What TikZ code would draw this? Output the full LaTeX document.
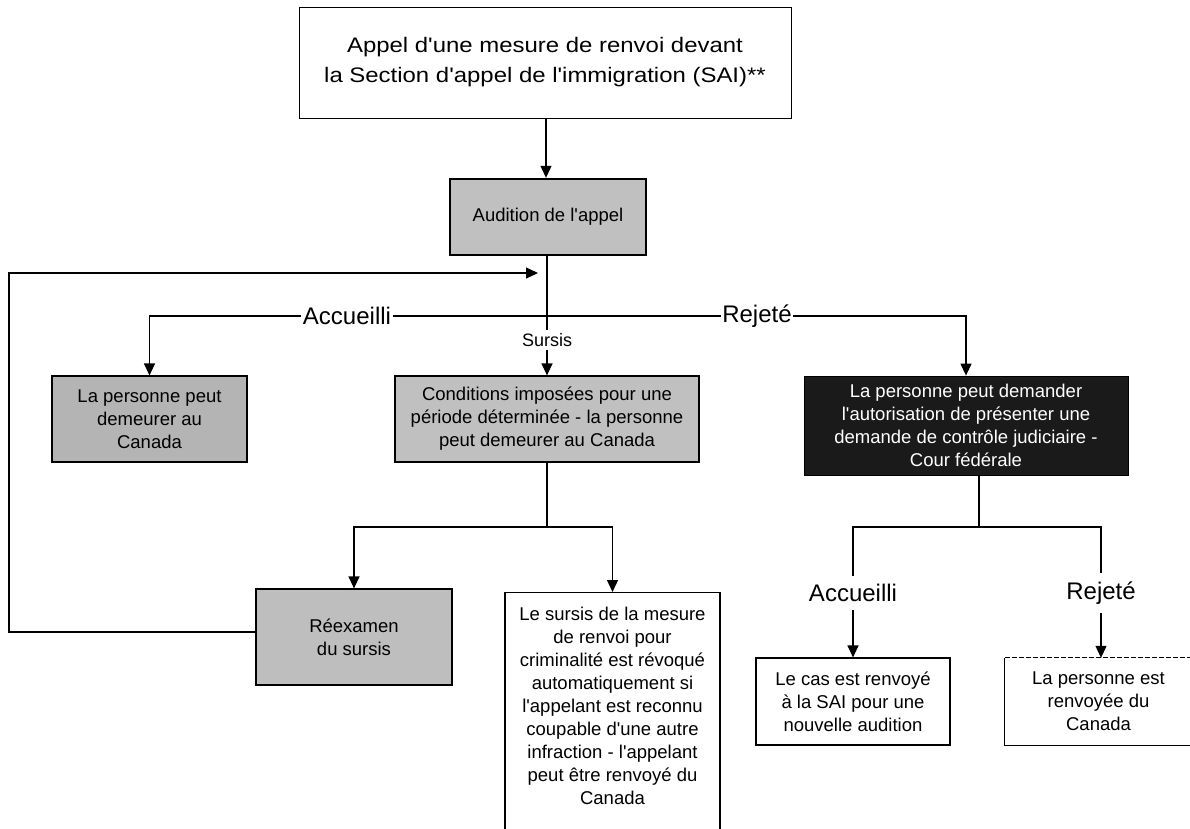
\documentclass[tikz,border=0pt]{standalone}
\usepackage{fontspec}
\setmainfont{Liberation Sans}[Ligatures=TeXOff]
\newfontfamily\widefont{Liberation Sans}[Ligatures=TeXOff,FakeStretch=1.14]
\usetikzlibrary{arrows.meta,calc}
\definecolor{grayA}{HTML}{C0C0C0}
\definecolor{grayB}{HTML}{B4B4B4}
\definecolor{grayC}{HTML}{BEBEBE}
\definecolor{nearblack}{HTML}{1A1A1A}
\tikzset{
  box/.style={draw=black, line width=1.2pt, align=center, inner sep=0pt,
              font=\fontsize{18.5}{23}\selectfont},
  txt/.style={align=center, inner sep=0pt, font=\fontsize{18.5}{23}\selectfont},
  conn/.style={draw=black, line width=1.2pt},
  arr/.style={conn, -{Triangle[length=12pt,width=11pt]}},
  lbl/.style={font=\fontsize{24}{28}\selectfont, inner xsep=1.5pt, inner ysep=8pt, fill=white},
  small/.style={font=\fontsize{18}{21}\selectfont, inner sep=3pt, fill=white},
}
\begin{document}
\begin{tikzpicture}[x=1pt,y=-1pt]
\clip (0,0) rectangle (1190,828);
\fill[white] (0,0) rectangle (1190,828);

% boxes
\node[box, fill=white, line width=1pt, minimum width=492, minimum height=111,
      font=\widefont\fontsize{21}{30}\selectfont] (top) at (545,62.5)
  {Appel d'une mesure de renvoi devant\\la Section d'appel de l'immigration (SAI)**};
\node[box, fill=grayA, line width=2.4pt, minimum width=196, minimum height=76] (aud) at (548,217)
  {Audition de l'appel};
\node[box, fill=grayB, minimum width=195, minimum height=86] (lapers) at (149.5,419)
  {La personne peut\\demeurer au\\Canada};
\node[box, fill=grayA, minimum width=304, minimum height=86] (cond) at (547,419)
  {Conditions imposées pour une\\période déterminée - la personne\\peut demeurer au Canada};
\node[box, fill=nearblack, text=white, line width=0.8pt, minimum width=324, minimum height=99] (fed) at (966,425.5)
  {La personne peut demander\\l'autorisation de présenter une\\demande de contrôle judiciaire -\\Cour fédérale};
\node[box, fill=grayC, minimum width=196, minimum height=96] (reex) at (354,637)
  {Réexamen\\du sursis};
\node[box, fill=white, minimum width=215, minimum height=260, anchor=north] (sursisbox) at (612.5,592) {};
\node[txt, anchor=north] (sursistxt) at (612.5,607)
  {Le sursis de la mesure\\de renvoi pour\\criminalité est révoqué\\automatiquement si\\l'appelant est reconnu\\coupable d'une autre\\infraction - l'appelant\\peut être renvoyé du\\Canada};
\node[box, fill=white, minimum width=194, minimum height=87] (lecas) at (853,701.5)
  {Le cas est renvoyé\\à la SAI pour une\\nouvelle audition};
\node[txt, minimum width=187, minimum height=87] (renv) at (1098.5,701.5)
  {La personne est\\renvoyée du\\Canada};
\draw[conn] (renv.north west) -- (renv.south west) -- (renv.south east) -- (renv.north east);
\draw[conn, dash pattern=on 5pt off 2pt] (renv.north west) -- (renv.north east);

% top arrow
\draw[arr] (top.south -| 546,0) -- (aud.north -| 546,0);

% labels on main split
\node[small] (sursislbl) at (547,340) {Sursis};
\node[lbl, inner ysep=2pt] (acc) at (347,316) {Accueilli};
\node[lbl, inner ysep=2pt] (rej) at (757,316) {Rejeté};
\draw[conn] (aud.south -| sursislbl) -- (sursislbl.north);
\draw[arr] (sursislbl.south) -- (cond.north);
\draw[arr] (acc.west) -| (lapers.north);
\draw[conn] (acc.east) -- (rej.west);
\draw[arr] (rej.east) -| (fed.north);

% feedback loop
\coordinate (fbL) at (9,632);
\coordinate (fbEnd) at (538,273);
\draw[arr] (reex.west |- fbL) -- (fbL) |- (fbEnd);

% lower-left split
\coordinate (sL) at (547,527);
\coordinate (sursisTop) at (612.5,592);
\draw[conn] (cond.south) -- (sL);
\draw[arr] (sL) -| (reex.north);
\draw[arr] (sL) -| (sursisTop);

% lower-right split
\coordinate (sR) at (979,527);
\node[lbl, fill=none] (acc2) at (853,593) {Accueilli};
\node[lbl, fill=none] (rej2) at (1101,593) {Rejeté};
\draw[conn] (fed.south -| sR) -- (sR);
\draw[conn] (acc2.north) |- (sR) -| (rej2.north);
\draw[arr] (acc2.south) -- (lecas.north);
\draw[arr] (rej2.south) -- (rej2.south |- renv.north);
\end{tikzpicture}
\end{document}
